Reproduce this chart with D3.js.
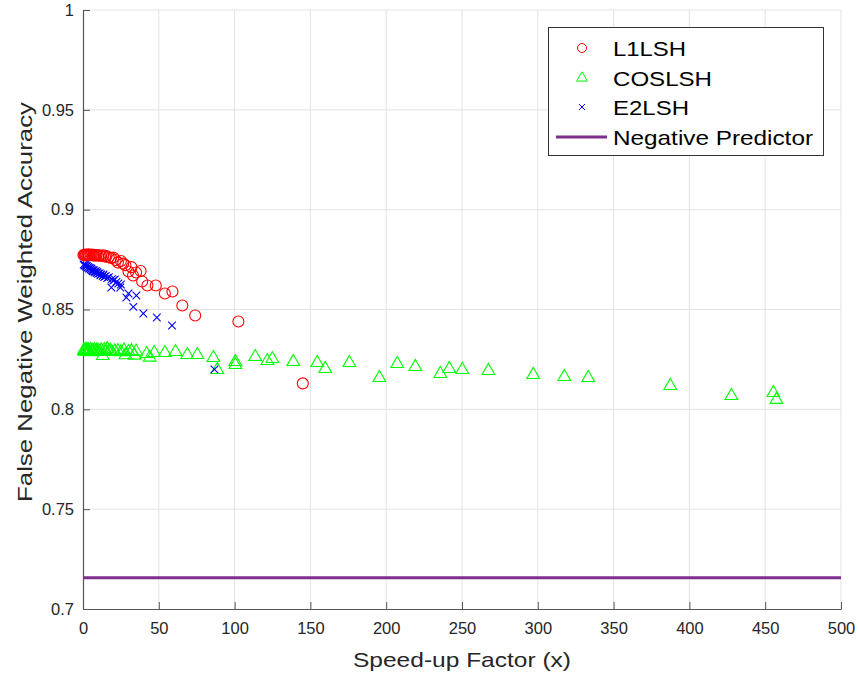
<!DOCTYPE html>
<html><head><meta charset="utf-8">
<script src="https://cdn.jsdelivr.net/npm/d3@7"></script>
<style>body{margin:0;background:#fff}svg{display:block}</style>
</head><body>
<svg id="c" width="858" height="675"></svg>
<script>
const l1lsh = [[0.3,0.8773],[0.8,0.8772],[1.3,0.8775],[1.8,0.8771],[2.3,0.8774],[3,0.8772],[3.6,0.8776],[4.2,0.8771],[5,0.8773],[5.7,0.8775],[6.5,0.8771],[7.2,0.8774],[8,0.877],[9,0.8773],[10,0.8769],[11,0.8772],[12,0.8768],[13.5,0.8772],[14.5,0.8765],[15.5,0.8768],[17,0.8762],[18.5,0.8758],[20,0.876],[21.5,0.8748],[23,0.8735],[25,0.8743],[26.5,0.873],[28,0.8722],[30,0.869],[32,0.8712],[33,0.867],[35,0.8685],[38,0.8693],[39,0.864],[42.5,0.862],[48,0.862],[54,0.858],[59,0.859],[65.5,0.852],[74,0.847],[102.5,0.844],[145,0.813]];
const coslsh = [[0.5,0.8295],[1,0.829],[1.5,0.8298],[2,0.8292],[2.5,0.830],[3,0.8288],[3.5,0.8296],[4,0.8291],[5,0.8299],[5.5,0.8287],[6,0.8294],[7,0.829],[7.5,0.8298],[8.5,0.8289],[9,0.8296],[10,0.8292],[11,0.829],[12,0.8296],[13,0.8268],[14,0.8298],[15,0.8292],[16,0.8303],[17,0.829],[18,0.8294],[19,0.8288],[21,0.8291],[23,0.8293],[25,0.8287],[27,0.8296],[28,0.8272],[30,0.8288],[32,0.8292],[34,0.827],[35,0.829],[42,0.8278],[44,0.826],[47,0.8283],[54,0.8283],[61,0.8288],[68.8,0.8273],[75.4,0.8273],[86,0.8258],[88.6,0.8198],[100.5,0.8238],[100.5,0.8223],[113.6,0.8263],[121.6,0.8243],[124.9,0.8253],[138.7,0.8238],[154.5,0.8233],[159.8,0.8203],[175.7,0.8233],[195.5,0.8158],[207.3,0.8228],[219.2,0.8213],[235.7,0.8178],[241.6,0.8203],[250.2,0.8198],[267.4,0.8193],[297,0.8173],[317.5,0.8163],[333.3,0.8158],[387.4,0.8118],[427.7,0.8068],[455.4,0.8083],[457.4,0.8048]];
const e2lsh = [[0.5,0.8725],[1,0.872],[1.5,0.8722],[2,0.8715],[2.5,0.8718],[3,0.871],[3.5,0.8713],[4,0.8705],[4.5,0.8708],[5,0.87],[5.5,0.8705],[6,0.8697],[6.5,0.8692],[7,0.8698],[7.5,0.869],[8,0.8686],[8.5,0.8693],[9,0.8683],[9.5,0.8688],[10,0.8679],[11,0.8682],[11.5,0.8672],[12,0.8676],[13,0.8668],[13.5,0.8675],[14,0.8663],[15,0.8668],[16,0.8658],[17,0.8662],[18.7,0.861],[19,0.8652],[20,0.8645],[21,0.865],[22,0.8638],[23.3,0.863],[24.6,0.861],[25,0.8625],[28.6,0.856],[30,0.858],[33.2,0.8513],[35.2,0.857],[39.8,0.848],[48.7,0.846],[58.7,0.842],[86.7,0.820]];
const negativePredictor = 0.7157;
const xTicks = [0,50,100,150,200,250,300,350,400,450,500];
const yTicks = [0.7,0.75,0.8,0.85,0.9,0.95,1];
const legendLabels = ["L1LSH","COSLSH","E2LSH","Negative Predictor"];

const svg = d3.select("#c");
const L=83, R=841, T=10, B=609;
const x = d3.scaleLinear().domain([0,500]).range([L,R]);
const y = d3.scaleLinear().domain([0.7,1]).range([B,T]);
const font = "'Liberation Sans', Arial, Helvetica, sans-serif";

// grid
svg.append("g").selectAll("line").data(xTicks.slice(1)).join("line")
  .attr("x1",d=>x(d)).attr("x2",d=>x(d)).attr("y1",T).attr("y2",B)
  .attr("stroke","#e3e3e3").attr("stroke-width",1);
svg.append("g").selectAll("line").data(yTicks.slice(1)).join("line")
  .attr("x1",L).attr("x2",R).attr("y1",d=>y(d)).attr("y2",d=>y(d))
  .attr("stroke","#e3e3e3").attr("stroke-width",1);

// axes
const xa = svg.append("g").attr("transform",`translate(0,${B})`)
  .call(d3.axisBottom(x).tickValues(xTicks).tickFormat(d3.format("d")).tickSizeInner(-7).tickSizeOuter(0).tickPadding(13));
const ya = svg.append("g").attr("transform",`translate(${L},0)`)
  .call(d3.axisLeft(y).tickValues(yTicks).tickFormat(d=>String(+d.toFixed(2))).tickSizeInner(-7).tickSizeOuter(0).tickPadding(9));
[xa,ya].forEach(a=>{
  a.select(".domain").attr("stroke","#555").attr("stroke-width",1.2);
  a.selectAll(".tick line").attr("stroke","#555");
  a.selectAll("text").attr("font-family",font).attr("font-size",16.5).attr("fill","#262626");
});

// negative predictor line
svg.append("line").attr("x1",x(0)).attr("x2",x(500))
  .attr("y1",y(negativePredictor)).attr("y2",y(negativePredictor))
  .attr("stroke","#7E2F8E").attr("stroke-width",3);

// markers
const tri = d3.symbol().type(d3.symbolTriangle).size(70);
svg.append("g").selectAll("path").data(coslsh).join("path")
  .attr("d",tri).attr("transform",d=>`translate(${x(d[0])},${y(d[1])})`)
  .attr("fill","none").attr("stroke","#00ff00").attr("stroke-width",1.1);
svg.append("g").selectAll("circle").data(l1lsh).join("circle")
  .attr("cx",d=>x(d[0])).attr("cy",d=>y(d[1])).attr("r",5.5)
  .attr("fill","none").attr("stroke","#ff0000").attr("stroke-width",1.1);
const cross = d3.symbol().type(d3.symbolX).size(40);
svg.append("g").selectAll("path").data(e2lsh).join("path")
  .attr("d",cross).attr("transform",d=>`translate(${x(d[0])},${y(d[1])})`)
  .attr("fill","none").attr("stroke","#0000ff").attr("stroke-width",1.1);

// axis titles
svg.append("text").attr("x",462).attr("y",667).attr("text-anchor","middle")
  .attr("font-family",font).attr("font-size",21).attr("fill","#262626")
  .attr("textLength",218).attr("lengthAdjust","spacingAndGlyphs").text("Speed-up Factor (x)");
svg.append("text").attr("transform",`translate(32,302) rotate(-90)`).attr("text-anchor","middle")
  .attr("font-family",font).attr("font-size",21).attr("fill","#262626")
  .attr("textLength",400).attr("lengthAdjust","spacingAndGlyphs").text("False Negative Weighted Accuracy");

// legend
const lg = svg.append("g");
lg.append("rect").attr("x",548.5).attr("y",27.5).attr("width",275).attr("height",128)
  .attr("fill","#fff").attr("stroke","#333").attr("stroke-width",1);
const rows = [48,78,107,137];
const legendWidths = [73,99,76,200];
lg.append("circle").attr("cx",582).attr("cy",rows[0]).attr("r",4.5).attr("fill","none").attr("stroke","#ff0000");
lg.append("path").attr("d",d3.symbol().type(d3.symbolTriangle).size(50)).attr("transform",`translate(582,${rows[1]})`).attr("fill","none").attr("stroke","#00ff00");
lg.append("path").attr("d",d3.symbol().type(d3.symbolX).size(25)).attr("transform",`translate(582,${rows[2]})`).attr("fill","none").attr("stroke","#0000ff");
lg.append("line").attr("x1",556).attr("x2",607).attr("y1",rows[3]).attr("y2",rows[3]).attr("stroke","#7E2F8E").attr("stroke-width",3);
lg.selectAll("text").data(legendLabels).join("text")
  .attr("x",613).attr("y",(d,i)=>rows[i]).attr("dy","0.36em")
  .attr("font-family",font).attr("font-size",21).attr("fill","#000")
  .attr("textLength",(d,i)=>legendWidths[i]).attr("lengthAdjust","spacingAndGlyphs").text(d=>d);
</script>
</body></html>
